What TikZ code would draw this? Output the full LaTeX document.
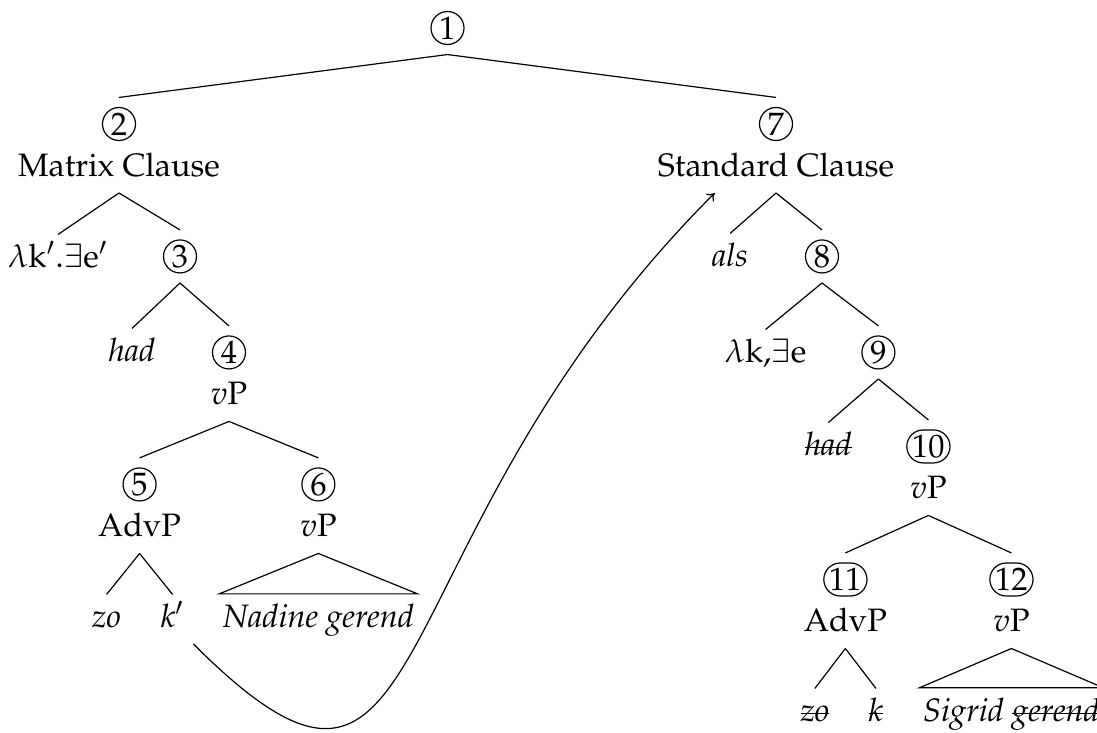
\documentclass[tikz,border=0pt]{standalone}
\usepackage[T1]{fontenc}
\usepackage{mathpazo}
\usepackage{tikz}
\usetikzlibrary{positioning, arrows.meta}
\newcommand{\treesize}{\fontsize{10.8}{13}\selectfont}
\newcommand{\struck}[1]{\leavevmode\setbox0\hbox{#1}\rlap{\rule[0.22em]{\wd0}{0.4pt}}\box0}
\tikzset{
  num/.style={draw, rounded corners=5.5pt, minimum size=11pt, inner xsep=1.8pt,
              inner ysep=0.5pt, outer sep=3.35pt, font=\treesize},
  lab/.style={inner sep=2.8pt, text height=8pt, text depth=2.5pt, font=\treesize},
  word/.style={lab, font=\treesize\itshape},
  phrase/.style={word, inner xsep=1pt, inner ysep=3pt},
  edge/.style={line width=0.4pt},
  arr/.style={-{To[length=2.4pt, width=3.6pt]}, line width=0.4pt},
}

\begin{document}
\begin{tikzpicture}[on grid]
  \useasboundingbox (-149.17pt,9.33pt) rectangle (216.5pt,-234.67pt);
  \node[num] (c1) at (0,0) {1};
  % matrix clause
  \node[num, below left=32pt and 109.5pt of c1] (c2) {2};
  \node[lab, below=14.75pt of c2] (l2) {Matrix Clause};
  \node[lab, below left=30.33pt and 20.33pt of l2] (lam1) {$\lambda$k$'$.$\exists$e$'$};
  \node[num, below right=29.4pt and 20.33pt of l2] (c3) {3};
  \node[word, below left=32.25pt and 16pt of c3] (had1) {had};
  \node[num, below right=32pt and 16.33pt of c3] (c4) {4};
  \node[lab, below=14.75pt of c4] (l4) {$v$P};
  \node[num, below left=29.25pt and 29.8pt of l4] (c5) {5};
  \node[num, below right=29.25pt and 29.8pt of l4] (c6) {6};
  \node[lab, below=14.75pt of c5] (l5) {AdvP};
  \node[lab, below=14.75pt of c6] (l6) {$v$P};
  \node[word, below left=30.17pt and 11pt of l5] (zo1) {zo};
  \node[word, below right=30.17pt and 11pt of l5] (k1) {k$'$};
  \node[phrase, below=30.17pt of l6] (nad) {Nadine gerend};
  % standard clause
  \node[num, below right=32pt and 109.5pt of c1] (c7) {7};
  \node[lab, below=14.75pt of c7] (l7) {Standard Clause};
  \node[word, below left=30pt and 15.33pt of l7] (als) {als};
  \node[num, below right=29.4pt and 15.33pt of l7] (c8) {8};
  \node[lab, below left=32.6pt and 18.8pt of c8] (lam2) {$\lambda$k,$\exists$e};
  \node[num, below right=32pt and 18.8pt of c8] (c9) {9};
  \node[word, below left=31.6pt and 16.67pt of c9] (had2) {\struck{had}};
  \node[num, below right=31.33pt and 16.67pt of c9] (c10) {10};
  \node[lab, below=14.75pt of c10] (l10) {$v$P};
  \node[num, below left=29.6pt and 27.67pt of l10] (c11) {11};
  \node[num, below right=29.6pt and 27.67pt of l10] (c12) {12};
  \node[lab, below=14.75pt of c11] (l11) {AdvP};
  \node[lab, below=14.75pt of c12] (l12) {$v$P};
  \node[word, below left=29.8pt and 10.17pt of l11] (zo2) {\struck{zo}};
  \node[word, below right=29.8pt and 10.17pt of l11] (k2) {\struck{k}};
  \node[phrase, below=29.8pt of l12] (sig) {Sigrid \struck{gerend}};
  % branches
  \draw[edge] (c1.south) -- (c2.north);
  \draw[edge] (c1.south) -- (c7.north);
  \draw[edge] (l2.south) -- (lam1.north);
  \draw[edge] (l2.south) -- (c3.north);
  \draw[edge] (c3.south) -- (had1.north);
  \draw[edge] (c3.south) -- (c4.north);
  \draw[edge] (l4.south) -- (c5.north);
  \draw[edge] (l4.south) -- (c6.north);
  \draw[edge] (l5.south) -- (zo1.north);
  \draw[edge] (l5.south) -- (k1.north);
  \draw[edge] (l6.south) -- (nad.north west) -- (nad.north east) -- cycle;
  \draw[edge] (l7.south) -- (als.north);
  \draw[edge] (l7.south) -- (c8.north);
  \draw[edge] (c8.south) -- (lam2.north);
  \draw[edge] (c8.south) -- (c9.north);
  \draw[edge] (c9.south) -- (had2.north);
  \draw[edge] (c9.south) -- (c10.north);
  \draw[edge] (l10.south) -- (c11.north);
  \draw[edge] (l10.south) -- (c12.north);
  \draw[edge] (l11.south) -- (zo2.north);
  \draw[edge] (l11.south) -- (k2.north);
  \draw[edge] (l12.south) -- (sig.north west) -- (sig.north east) -- cycle;
  % movement
  \draw[arr] (k1.south east) .. controls +(-45:118pt) and +(225:165pt) .. (l7.202);
\end{tikzpicture}
\end{document}
